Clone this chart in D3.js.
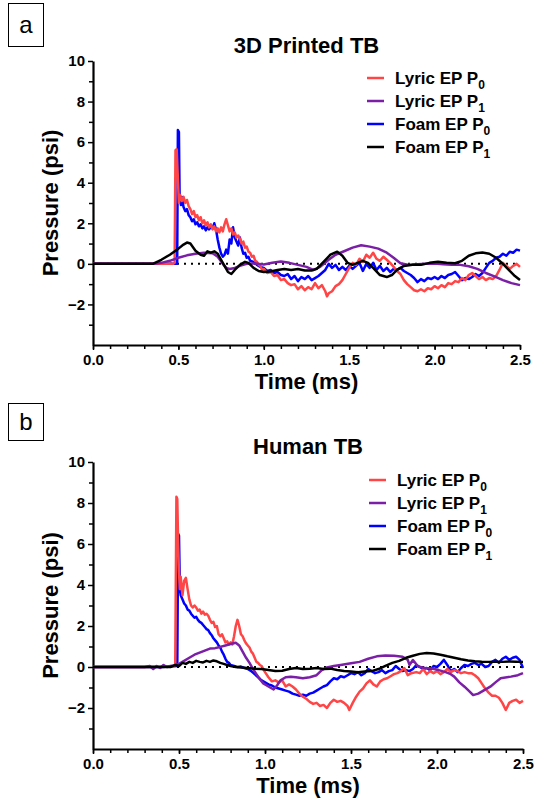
<!DOCTYPE html>
<html lang="en">
<meta charset="utf-8">
<head>
    <script src="https://d3js.org/d3.v7.min.js"></script>
    <style>
        body { margin: 0; background: #fff; }
        text { font-family: "Liberation Sans", Arial, sans-serif; }
    </style>
</head>
<body>
<div id="chart"></div>
<script>
// series names and colours
const seriesNames = ["Lyric EP P", "Lyric EP P", "Foam EP P", "Foam EP P"];
const seriesSubs = ["0", "1", "0", "1"];
const seriesColors = ["#ff4545", "#7a1fa6", "#0000ff", "#000000"];

const xTicks = [0, 0.5, 1.0, 1.5, 2.0, 2.5];
const yTicks = [-2, 0, 2, 4, 6, 8, 10];

// panel a : 3D Printed TB   [time ms, pressure psi]
const aLyricP0 = [[0,0],[0.47,0],[0.478,0.05],[0.483,5.6],[0.49,5.65],[0.497,4.2],[0.503,3.0],[0.51,3.4],[0.52,3.1],[0.53,3.3],[0.54,3.0],[0.55,3.15],[0.56,2.85],[0.57,2.7],[0.58,2.45],[0.59,2.6],[0.60,2.3],[0.61,2.4],[0.62,2.15],[0.63,2.3],[0.64,2.0],[0.65,2.15],[0.66,1.9],[0.67,2.05],[0.68,1.8],[0.69,1.95],[0.70,1.7],[0.71,1.85],[0.72,1.6],[0.73,1.75],[0.74,1.55],[0.75,1.8],[0.76,1.6],[0.77,1.95],[0.78,2.2],[0.79,1.9],[0.80,1.6],[0.81,1.75],[0.82,1.45],[0.83,1.55],[0.84,1.3],[0.85,1.4],[0.86,1.25],[0.87,1.0],[0.88,1.1],[0.89,0.8],[0.90,0.85],[0.91,0.6],[0.92,0.55],[0.93,0.35],[0.94,0.4],[0.95,0.15],[0.96,0.1],[0.97,-0.05],[0.98,-0.1],[0.99,-0.3],[1.00,-0.25],[1.02,-0.45],[1.04,-0.4],[1.06,-0.6],[1.08,-0.55],[1.10,-0.8],[1.12,-0.75],[1.14,-0.95],[1.16,-1.05],[1.18,-1.0],[1.20,-1.25],[1.22,-1.1],[1.24,-1.3],[1.26,-1.15],[1.28,-1.25],[1.30,-0.95],[1.32,-1.2],[1.34,-1.05],[1.36,-1.35],[1.37,-1.6],[1.38,-1.45],[1.40,-1.35],[1.42,-1.1],[1.44,-1.0],[1.46,-0.8],[1.48,-0.5],[1.50,-0.2],[1.52,0.05],[1.54,-0.05],[1.56,0.25],[1.58,0.1],[1.60,0.45],[1.62,0.3],[1.64,0.55],[1.66,0.25],[1.68,0.15],[1.70,0.35],[1.72,0.2],[1.74,0.05],[1.76,-0.15],[1.78,-0.35],[1.80,-0.5],[1.82,-0.8],[1.84,-1.0],[1.86,-1.15],[1.88,-1.3],[1.90,-1.35],[1.92,-1.25],[1.94,-1.35],[1.96,-1.2],[1.98,-1.25],[2.00,-1.1],[2.02,-1.2],[2.04,-1.05],[2.06,-1.15],[2.08,-0.95],[2.10,-1.0],[2.12,-0.85],[2.14,-0.9],[2.16,-0.7],[2.18,-0.8],[2.20,-0.55],[2.22,-0.45],[2.24,-0.6],[2.26,-0.75],[2.28,-0.65],[2.30,-0.8],[2.32,-0.7],[2.34,-0.75],[2.36,-0.6],[2.38,-0.3],[2.40,0.05],[2.42,-0.1],[2.44,-0.25],[2.46,-0.1],[2.48,0.0],[2.50,-0.15]];
const aLyricP1 = [[0,0],[0.36,0],[0.40,0.05],[0.45,0.15],[0.50,0.3],[0.55,0.42],[0.60,0.5],[0.65,0.55],[0.70,0.52],[0.73,0.35],[0.76,0.0],[0.78,-0.2],[0.80,-0.25],[0.83,-0.2],[0.86,-0.1],[0.90,0.0],[0.95,0.02],[1.00,-0.03],[1.05,0.05],[1.10,0.12],[1.15,0.05],[1.20,-0.05],[1.25,-0.15],[1.29,-0.3],[1.33,-0.15],[1.38,0.2],[1.42,0.45],[1.47,0.62],[1.52,0.8],[1.57,0.92],[1.62,0.85],[1.67,0.75],[1.72,0.55],[1.76,0.3],[1.80,0.03],[1.85,-0.05],[1.90,-0.02],[1.95,0.0],[2.00,0.02],[2.05,-0.02],[2.10,-0.05],[2.15,-0.05],[2.20,-0.12],[2.25,-0.25],[2.30,-0.45],[2.35,-0.62],[2.40,-0.8],[2.45,-0.95],[2.50,-1.05]];
const aFoamP0 = [[0,0],[0.493,0],[0.497,6.6],[0.503,6.5],[0.507,3.4],[0.515,2.9],[0.52,3.3],[0.53,2.8],[0.54,2.6],[0.55,2.7],[0.56,2.4],[0.57,2.3],[0.58,2.1],[0.59,2.2],[0.60,1.95],[0.61,2.05],[0.62,1.85],[0.63,1.95],[0.64,1.75],[0.65,1.85],[0.66,1.65],[0.67,1.8],[0.68,1.7],[0.69,1.85],[0.70,1.75],[0.71,2.0],[0.72,1.7],[0.73,1.2],[0.74,0.8],[0.75,0.5],[0.76,0.35],[0.77,0.45],[0.78,0.7],[0.79,0.5],[0.80,1.2],[0.81,1.0],[0.82,1.8],[0.83,1.3],[0.84,1.1],[0.85,0.9],[0.86,1.3],[0.87,0.8],[0.88,0.5],[0.89,0.55],[0.90,0.3],[0.91,0.35],[0.92,0.15],[0.94,0.1],[0.96,-0.05],[0.98,-0.15],[1.00,-0.2],[1.02,-0.35],[1.04,-0.3],[1.06,-0.45],[1.08,-0.4],[1.10,-0.55],[1.12,-0.6],[1.14,-0.5],[1.16,-0.75],[1.18,-0.6],[1.20,-0.85],[1.22,-0.65],[1.24,-0.75],[1.26,-0.6],[1.28,-0.8],[1.30,-0.7],[1.32,-0.6],[1.34,-0.45],[1.36,-0.3],[1.38,0.0],[1.40,-0.2],[1.42,-0.05],[1.44,-0.3],[1.46,-0.15],[1.48,-0.3],[1.50,-0.1],[1.52,-0.25],[1.54,-0.1],[1.56,0.05],[1.58,-0.35],[1.60,0.0],[1.62,-0.2],[1.64,0.05],[1.66,-0.3],[1.68,-0.1],[1.70,-0.35],[1.72,-0.2],[1.74,-0.4],[1.76,-0.25],[1.78,-0.3],[1.80,-0.2],[1.82,-0.35],[1.84,-0.45],[1.86,-0.55],[1.88,-0.7],[1.90,-0.9],[1.92,-0.75],[1.94,-0.85],[1.96,-0.7],[1.98,-0.75],[2.00,-0.65],[2.02,-0.75],[2.04,-0.6],[2.06,-0.7],[2.08,-0.55],[2.10,-0.5],[2.12,-0.4],[2.14,-0.6],[2.16,-0.8],[2.18,-0.7],[2.20,-0.75],[2.22,-0.65],[2.24,-0.5],[2.26,-0.6],[2.28,-0.45],[2.30,-0.2],[2.32,0.05],[2.34,0.15],[2.36,0.3],[2.38,0.35],[2.40,0.5],[2.42,0.4],[2.44,0.6],[2.46,0.55],[2.48,0.7],[2.50,0.65]];
const aFoamP1 = [[0,0],[0.35,0],[0.40,0.2],[0.45,0.45],[0.50,0.75],[0.53,0.95],[0.55,1.05],[0.57,1.0],[0.60,0.65],[0.63,0.45],[0.65,0.4],[0.67,0.62],[0.69,0.55],[0.71,0.62],[0.73,0.5],[0.75,0.2],[0.77,-0.1],[0.79,-0.4],[0.81,-0.5],[0.83,-0.3],[0.86,-0.05],[0.89,0.1],[0.91,0.05],[0.94,-0.2],[0.97,-0.35],[1.00,-0.4],[1.04,-0.38],[1.08,-0.3],[1.12,-0.25],[1.16,-0.3],[1.20,-0.25],[1.24,-0.33],[1.28,-0.33],[1.31,-0.25],[1.35,0.1],[1.39,0.45],[1.43,0.6],[1.46,0.4],[1.49,0.05],[1.52,-0.05],[1.55,0.05],[1.58,0.15],[1.61,0.05],[1.64,-0.2],[1.68,-0.55],[1.72,-0.65],[1.75,-0.55],[1.78,-0.3],[1.82,-0.1],[1.87,-0.05],[1.92,-0.05],[1.97,0.05],[2.02,0.1],[2.07,0.05],[2.12,0.03],[2.16,0.15],[2.20,0.4],[2.24,0.52],[2.28,0.56],[2.32,0.5],[2.36,0.3],[2.40,0.0],[2.44,-0.35],[2.47,-0.6],[2.50,-0.8]];

// panel b : Human TB
const bLyricP0 = [[0,0],[0.30,0],[0.40,0.02],[0.47,0.05],[0.478,0.1],[0.485,8.3],[0.49,8.2],[0.495,6.0],[0.50,4.6],[0.505,3.8],[0.51,4.4],[0.52,3.5],[0.53,4.2],[0.54,4.35],[0.55,3.8],[0.56,3.3],[0.57,3.0],[0.58,2.9],[0.59,3.0],[0.60,2.9],[0.61,2.75],[0.62,2.8],[0.63,2.6],[0.64,2.7],[0.65,2.55],[0.66,2.6],[0.67,2.5],[0.68,2.3],[0.69,2.15],[0.70,2.2],[0.71,1.95],[0.72,2.0],[0.73,1.6],[0.74,1.5],[0.75,1.6],[0.76,1.4],[0.77,1.2],[0.78,1.25],[0.79,1.1],[0.80,1.2],[0.81,1.1],[0.82,1.5],[0.83,2.0],[0.84,2.3],[0.85,2.0],[0.86,1.6],[0.87,1.5],[0.88,1.3],[0.89,1.15],[0.90,1.05],[0.91,0.95],[0.92,0.75],[0.93,0.65],[0.94,0.45],[0.95,0.25],[0.96,0.2],[0.97,0.1],[0.98,0.05],[0.99,-0.1],[1.00,-0.25],[1.02,-0.5],[1.04,-0.7],[1.06,-0.65],[1.08,-0.75],[1.10,-0.65],[1.12,-0.95],[1.14,-0.85],[1.16,-0.95],[1.18,-1.1],[1.20,-1.3],[1.22,-1.45],[1.24,-1.55],[1.26,-1.7],[1.28,-1.8],[1.30,-1.75],[1.32,-1.9],[1.34,-1.85],[1.36,-2.0],[1.38,-1.75],[1.40,-1.6],[1.42,-1.7],[1.44,-1.65],[1.46,-1.75],[1.48,-1.9],[1.49,-2.1],[1.51,-1.75],[1.53,-1.45],[1.55,-1.2],[1.57,-1.05],[1.59,-0.8],[1.61,-0.65],[1.63,-0.85],[1.65,-0.95],[1.67,-0.7],[1.69,-0.6],[1.71,-0.55],[1.73,-0.45],[1.75,-0.35],[1.77,-0.3],[1.79,-0.2],[1.81,-0.05],[1.83,-0.4],[1.85,-0.3],[1.88,-0.25],[1.90,-0.3],[1.92,-0.1],[1.94,-0.35],[1.96,-0.2],[1.98,-0.3],[2.00,-0.2],[2.02,-0.35],[2.04,-0.25],[2.06,-0.1],[2.08,-0.25],[2.10,-0.15],[2.12,-0.2],[2.14,-0.3],[2.16,-0.25],[2.18,-0.3],[2.20,-0.3],[2.22,-0.4],[2.24,-0.55],[2.26,-0.8],[2.28,-1.05],[2.30,-1.25],[2.32,-1.4],[2.34,-1.4],[2.36,-1.5],[2.38,-1.75],[2.40,-2.1],[2.42,-1.75],[2.44,-1.65],[2.46,-1.6],[2.48,-1.75],[2.50,-1.65]];
const bLyricP1 = [[0,0],[0.30,0],[0.33,0.05],[0.35,-0.1],[0.37,0.05],[0.39,-0.05],[0.41,0.1],[0.43,0.0],[0.45,0.05],[0.47,0.08],[0.50,0.15],[0.53,0.3],[0.56,0.45],[0.59,0.6],[0.62,0.7],[0.65,0.8],[0.68,0.9],[0.71,0.92],[0.74,0.98],[0.77,1.05],[0.80,1.12],[0.83,1.18],[0.85,1.05],[0.87,0.75],[0.89,0.45],[0.91,0.2],[0.93,-0.1],[0.95,-0.35],[0.97,-0.6],[0.99,-0.8],[1.01,-0.9],[1.03,-1.0],[1.05,-1.1],[1.07,-0.9],[1.09,-0.65],[1.12,-0.5],[1.15,-0.48],[1.18,-0.5],[1.22,-0.55],[1.26,-0.5],[1.30,-0.4],[1.33,-0.15],[1.36,-0.02],[1.40,0.05],[1.44,0.1],[1.50,0.18],[1.55,0.25],[1.60,0.4],[1.65,0.52],[1.70,0.56],[1.75,0.55],[1.80,0.5],[1.83,0.35],[1.84,0.1],[1.86,0.34],[1.89,0.02],[1.93,-0.05],[1.97,-0.07],[2.01,-0.15],[2.05,-0.25],[2.08,-0.35],[2.10,-0.47],[2.13,-0.75],[2.16,-0.96],[2.19,-1.2],[2.21,-1.37],[2.24,-1.3],[2.26,-1.2],[2.31,-0.96],[2.34,-0.75],[2.37,-0.55],[2.43,-0.47],[2.47,-0.4],[2.50,-0.3]];
const bFoamP0 = [[0,0],[0.40,0],[0.49,0.05],[0.495,6.5],[0.50,6.4],[0.505,3.8],[0.51,3.5],[0.52,3.3],[0.53,3.1],[0.54,3.0],[0.55,2.8],[0.56,2.75],[0.57,2.6],[0.58,2.5],[0.59,2.4],[0.60,2.45],[0.61,2.3],[0.62,2.2],[0.63,2.15],[0.64,2.05],[0.65,1.95],[0.66,1.85],[0.67,1.8],[0.68,1.65],[0.69,1.55],[0.70,1.4],[0.71,1.3],[0.72,1.2],[0.73,1.05],[0.74,0.95],[0.75,0.75],[0.76,0.6],[0.77,0.4],[0.78,0.25],[0.79,0.2],[0.80,0.1],[0.82,0.05],[0.84,0.0],[0.86,0.02],[0.88,-0.05],[0.90,-0.1],[0.92,-0.2],[0.94,-0.35],[0.96,-0.5],[0.98,-0.65],[1.00,-0.75],[1.02,-0.85],[1.04,-0.9],[1.06,-1.0],[1.08,-1.05],[1.10,-1.1],[1.12,-1.15],[1.14,-1.2],[1.16,-1.3],[1.18,-1.35],[1.20,-1.4],[1.22,-1.35],[1.24,-1.4],[1.26,-1.3],[1.28,-1.25],[1.30,-1.15],[1.32,-1.05],[1.34,-0.95],[1.36,-0.88],[1.38,-0.7],[1.40,-0.55],[1.42,-0.6],[1.44,-0.45],[1.46,-0.5],[1.48,-0.4],[1.50,-0.3],[1.52,-0.35],[1.54,-0.25],[1.56,-0.4],[1.58,-0.3],[1.60,-0.1],[1.62,-0.2],[1.64,-0.3],[1.66,-0.25],[1.68,-0.15],[1.70,-0.3],[1.72,-0.2],[1.74,-0.15],[1.76,0.05],[1.78,-0.1],[1.80,-0.2],[1.82,-0.15],[1.84,-0.2],[1.86,-0.1],[1.88,0.1],[1.90,0.0],[1.92,-0.1],[1.94,-0.05],[1.96,-0.15],[1.98,0.05],[2.00,0.0],[2.02,0.15],[2.04,0.35],[2.06,0.1],[2.08,-0.2],[2.10,-0.1],[2.12,-0.25],[2.14,-0.05],[2.16,0.1],[2.18,0.05],[2.20,0.15],[2.22,0.2],[2.24,0.1],[2.26,0.15],[2.28,0.0],[2.30,0.05],[2.32,0.25],[2.34,0.35],[2.36,0.2],[2.38,0.4],[2.40,0.5],[2.42,0.35],[2.44,0.45],[2.46,0.5],[2.48,0.35],[2.50,-0.05]];
const bFoamP1 = [[0,0],[0.45,0],[0.48,0.1],[0.50,0.05],[0.52,0.2],[0.54,0.15],[0.56,0.25],[0.58,0.2],[0.60,0.3],[0.62,0.25],[0.64,0.22],[0.66,0.3],[0.68,0.25],[0.70,0.32],[0.72,0.28],[0.74,0.2],[0.76,0.15],[0.78,0.1],[0.80,0.05],[0.83,0.0],[0.86,-0.02],[0.90,-0.05],[0.94,-0.08],[0.98,-0.1],[1.02,-0.15],[1.06,-0.2],[1.10,-0.18],[1.14,-0.1],[1.18,-0.05],[1.22,-0.1],[1.26,-0.08],[1.30,-0.05],[1.34,-0.1],[1.38,-0.08],[1.42,-0.15],[1.46,-0.2],[1.50,-0.22],[1.54,-0.25],[1.58,-0.22],[1.62,-0.2],[1.66,-0.1],[1.70,0.05],[1.74,0.2],[1.78,0.3],[1.82,0.45],[1.86,0.55],[1.90,0.64],[1.94,0.68],[1.98,0.66],[2.02,0.6],[2.06,0.52],[2.10,0.45],[2.14,0.38],[2.18,0.32],[2.22,0.28],[2.26,0.26],[2.30,0.25],[2.34,0.26],[2.38,0.25],[2.42,0.27],[2.46,0.26],[2.50,0.25]];

const panels = [
    {label: "a", title: "3D Printed TB", series: [aLyricP0, aLyricP1, aFoamP0, aFoamP1],
     top: 0, left: 93, right: 520, yTop: 61, yBot: 345, legX: 367, legY: 78},
    {label: "b", title: "Human TB", series: [bLyricP0, bLyricP1, bFoamP0, bFoamP1],
     top: 400, left: 93, right: 523, yTop: 462, yBot: 749, legX: 369, legY: 480}
];

const svg = d3.select("#chart").append("svg")
    .attr("width", 535)
    .attr("height", 804);

// drawing order: blue, red, purple, black
const drawOrder = [2, 0, 1, 3];

panels.forEach(function(p) {
    const g = svg.append("g");

    const x = d3.scaleLinear().domain([0, 2.5]).range([p.left, p.right]);
    const y = d3.scaleLinear().domain([-4, 10]).range([p.yBot, p.yTop]);

    // panel letter box
    g.append("rect")
        .attr("x", 8.5).attr("y", p.top + 3.5)
        .attr("width", 35).attr("height", p.label == "a" ? 43 : 37)
        .attr("fill", "none").attr("stroke", "#000").attr("stroke-width", 1);
    g.append("text")
        .attr("x", 26).attr("y", p.top + (p.label == "a" ? 33 : 30))
        .attr("text-anchor", "middle")
        .attr("font-size", 24)
        .text(p.label);

    // title
    g.append("text")
        .attr("x", (p.left + p.right) / 2).attr("y", p.yTop - 8)
        .attr("text-anchor", "middle")
        .attr("font-size", 22).attr("font-weight", "bold")
        .text(p.title);

    // minor ticks
    g.append("g")
        .attr("transform", "translate(0," + p.yBot + ")")
        .call(d3.axisBottom(x).tickValues(d3.range(0, 26).map(function(i) { return i / 10; }))
            .tickSize(4).tickSizeOuter(0).tickFormat(""))
        .call(function(s) { s.select(".domain").remove(); s.selectAll("line").attr("stroke-width", 1.5); });
    g.append("g")
        .attr("transform", "translate(" + p.left + ",0)")
        .call(d3.axisLeft(y).tickValues([-3, -1, 1, 3, 5, 7, 9])
            .tickSize(4).tickSizeOuter(0).tickFormat(""))
        .call(function(s) { s.select(".domain").remove(); s.selectAll("line").attr("stroke-width", 1.5); });

    // x axis
    const xa = g.append("g")
        .attr("transform", "translate(0," + p.yBot + ")")
        .call(d3.axisBottom(x).tickValues(xTicks).tickFormat(d3.format(".1f"))
            .tickSize(5).tickSizeOuter(0).tickPadding(4));
    // y axis
    const ya = g.append("g")
        .attr("transform", "translate(" + p.left + ",0)")
        .call(d3.axisLeft(y).tickValues(yTicks).tickFormat(d3.format("d"))
            .tickSize(5).tickSizeOuter(0).tickPadding(3));
    [xa, ya].forEach(function(a) {
        a.select(".domain").attr("stroke-width", 2.2);
        a.selectAll(".tick line").attr("stroke-width", 1.5);
        a.selectAll("text")
            .attr("font-family", "'Liberation Sans', Arial, sans-serif")
            .attr("font-size", 15).attr("font-weight", "bold").attr("fill", "#000");
    });

    // axis titles
    g.append("text")
        .attr("x", (p.left + p.right) / 2).attr("y", p.yBot + 44)
        .attr("text-anchor", "middle")
        .attr("font-size", 22).attr("font-weight", "bold")
        .text("Time (ms)");
    g.append("text")
        .attr("transform", "translate(58," + (p.yTop + p.yBot) / 2 + ") rotate(-90)")
        .attr("text-anchor", "middle")
        .attr("font-size", 22).attr("font-weight", "bold")
        .text("Pressure (psi)");

    // dotted zero line
    g.append("line")
        .attr("x1", x(0)).attr("x2", x(2.5))
        .attr("y1", y(0)).attr("y2", y(0))
        .attr("stroke", "#000").attr("stroke-width", 2)
        .attr("stroke-dasharray", "2,5");

    const line = d3.line()
        .x(function(d) { return x(d[0]); })
        .y(function(d) { return y(d[1]); });

    drawOrder.forEach(function(i) {
        g.append("path")
            .datum(p.series[i])
            .attr("fill", "none")
            .attr("stroke", seriesColors[i])
            .attr("stroke-width", 2.5)
            .attr("stroke-linejoin", "round")
            .attr("d", line);
    });

    // legend
    seriesNames.forEach(function(name, i) {
        const ly = p.legY + i * 23;
        g.append("line")
            .attr("x1", p.legX).attr("x2", p.legX + 17)
            .attr("y1", ly).attr("y2", ly)
            .attr("stroke", seriesColors[i]).attr("stroke-width", 2.5);
        const t = g.append("text")
            .attr("x", p.legX + 28).attr("y", ly + 6)
            .attr("font-size", 17).attr("font-weight", "bold");
        t.append("tspan").text(name);
        t.append("tspan").attr("font-size", 12).attr("dy", 5).text(seriesSubs[i]);
    });
});
</script>
</body>
</html>
